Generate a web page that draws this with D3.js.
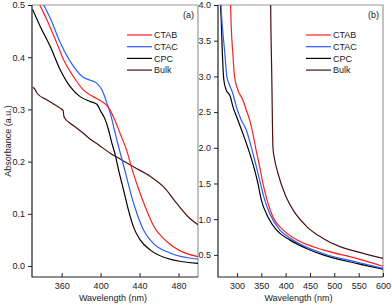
<!DOCTYPE html>
<html>
<head>
<meta charset="utf-8">
<script src="https://cdn.jsdelivr.net/npm/d3@7"></script>
<style>
  html, body { margin: 0; padding: 0; background: #fff; }
  svg { display: block; font-family: "Liberation Sans", Arial, sans-serif; }
  .tick text { font-size: 9px; fill: #1a1a1a; }
  .tick line { stroke: #222; stroke-width: 1; }
</style>
</head>
<body>
<svg id="chart" width="392" height="305"></svg>
<script>
// Panel (a): visible range of the absorption edge
const series = ["CTAB", "CTAC", "CPC", "Bulk"];
const colors = ["#ff1f1f", "#2a5cff", "#000000", "#4d0f12"];

const wlA_ctab = [330, 337.5, 345, 355, 362, 372, 382.5, 392.8, 401.4, 408, 415, 420, 427, 432, 438.9, 445.7, 454.3, 467.9, 481.6, 500];
const absA_ctab = [0.53, 0.5, 0.471, 0.427, 0.395, 0.363, 0.337, 0.324, 0.315, 0.304, 0.278, 0.254, 0.22, 0.187, 0.148, 0.114, 0.077, 0.047, 0.029, 0.018];

const wlA_ctac = [330, 341.6, 348.4, 358.7, 372.3, 382.5, 389.4, 396.2, 401.4, 406.5, 409.9, 415, 418.4, 421.8, 427, 432, 437.2, 444, 454.3, 471.3, 500];
const absA_ctac = [0.545, 0.5, 0.474, 0.427, 0.382, 0.361, 0.356, 0.35, 0.337, 0.312, 0.293, 0.254, 0.229, 0.205, 0.168, 0.132, 0.101, 0.069, 0.043, 0.025, 0.013];

const wlA_cpc = [330, 338.2, 348.4, 358.7, 368.9, 379.2, 389.4, 396.2, 399.6, 404.8, 408.1, 411.6, 415, 418.4, 423.5, 428.6, 433.7, 440.6, 450.8, 467.9, 500];
const absA_cpc = [0.492, 0.458, 0.42, 0.375, 0.343, 0.324, 0.315, 0.31, 0.298, 0.28, 0.261, 0.235, 0.213, 0.184, 0.146, 0.107, 0.075, 0.05, 0.031, 0.015, 0.005];

const wlA_bulk = [330, 331.5, 334.8, 345, 352, 358.7, 361.5, 362, 362.6, 369, 375, 382.5, 389.4, 398, 409.9, 420, 433.7, 450.8, 464.5, 478.2, 491.8, 500];
const absA_bulk = [0.342, 0.341, 0.331, 0.318, 0.31, 0.302, 0.298, 0.29, 0.285, 0.273, 0.265, 0.254, 0.243, 0.232, 0.216, 0.205, 0.19, 0.172, 0.152, 0.12, 0.091, 0.079];

// Panel (b): full range
const wlB_ctab = [282, 286.8, 288.2, 291.5, 295, 301.8, 312.1, 319.1, 326, 332.7, 338.3, 346.5, 353.3, 361.6, 373.9, 394.5, 428.9, 477, 545.8, 600];
const absB_ctab = [4.6, 4.0, 3.7, 3.32, 3.0, 2.81, 2.67, 2.53, 2.39, 2.2, 2.0, 1.74, 1.5, 1.27, 1.03, 0.85, 0.69, 0.57, 0.45, 0.34];

const wlB_ctac = [262, 267, 269.7, 274.4, 279.2, 284.7, 291.5, 298.5, 308.8, 319.1, 329.4, 339.6, 346.5, 354.8, 367.2, 387.8, 415.2, 477, 545.8, 600];
const absB_ctac = [4.8, 4.0, 3.72, 3.37, 3.0, 2.88, 2.76, 2.58, 2.39, 2.25, 2.01, 1.74, 1.55, 1.32, 1.08, 0.85, 0.71, 0.52, 0.40, 0.31];

const wlB_cpc = [262, 266.2, 267.6, 269.7, 273, 277.9, 286.2, 291.5, 301.8, 312.1, 322.4, 336.2, 343, 350, 363.6, 380.9, 408.4, 442.7, 477, 545.8, 600];
const absB_cpc = [4.8, 4.0, 3.79, 3.37, 2.95, 2.81, 2.72, 2.58, 2.39, 2.2, 2.0, 1.69, 1.5, 1.27, 1.03, 0.85, 0.71, 0.59, 0.5, 0.38, 0.30];

const wlB_bulk = [368.5, 369.2, 371.5, 373.9, 377, 384.3, 398, 415.2, 442.7, 477, 511.4, 545.8, 600];
const absB_bulk = [4.6, 4.0, 3.0, 2.0, 1.85, 1.64, 1.36, 1.13, 0.9, 0.73, 0.615, 0.545, 0.45];

const ticksA_x = [360, 400, 440, 480];
const ticksA_y = [0.0, 0.1, 0.2, 0.3, 0.4, 0.5];
const ticksB_x = [300, 350, 400, 450, 500, 550, 600];
const ticksB_y = [0.5, 1.0, 1.5, 2.0, 2.5, 3.0, 3.5, 4.0];

const zip = (xs, ys) => xs.map((x, i) => [x, ys[i]]);

const panels = [
  {
    id: "a", left: 32, right: 198, top: 5, bottom: 277,
    xDomain: [329.5, 500], yDomain: [-0.021, 0.5],
    xTicks: ticksA_x, yTicks: ticksA_y,
    lines: [zip(wlA_ctab, absA_ctab), zip(wlA_ctac, absA_ctac), zip(wlA_cpc, absA_cpc), zip(wlA_bulk, absA_bulk)],
    legendX: 127
  },
  {
    id: "b", left: 218, right: 383, top: 5, bottom: 277,
    xDomain: [261, 600], yDomain: [0.19, 4.0],
    xTicks: ticksB_x, yTicks: ticksB_y,
    lines: [zip(wlB_ctab, absB_ctab), zip(wlB_ctac, absB_ctac), zip(wlB_cpc, absB_cpc), zip(wlB_bulk, absB_bulk)],
    legendX: 306
  }
];

const svg = d3.select("#chart");

panels.forEach(p => {
  const x = d3.scaleLinear().domain(p.xDomain).range([p.left, p.right]);
  const y = d3.scaleLinear().domain(p.yDomain).range([p.bottom, p.top]);
  const g = svg.append("g");

  g.append("clipPath").attr("id", "clip-" + p.id)
    .append("rect")
    .attr("x", p.left).attr("y", p.top)
    .attr("width", p.right - p.left).attr("height", p.bottom - p.top);

  // frame: light top/right, dark left/bottom
  g.append("path")
    .attr("d", `M${p.left},${p.top} H${p.right} V${p.bottom}`)
    .attr("fill", "none").attr("stroke", "#9a9a9a").attr("stroke-width", 1.2);

  const line = d3.line()
    .x(d => x(d[0])).y(d => y(d[1]))
    .curve(d3.curveMonotoneX);

  const lg = g.append("g").attr("clip-path", `url(#clip-${p.id})`);
  // draw bulk first, then CPC, CTAC, CTAB on top
  [3, 2, 1, 0].forEach(i => {
    lg.append("path")
      .datum(p.lines[i])
      .attr("d", line)
      .attr("fill", "none")
      .attr("stroke", colors[i])
      .attr("stroke-width", 1.2);
  });

  const yAxis = d3.axisLeft(y).tickValues(p.yTicks).tickFormat(d3.format(".1f"))
    .tickSizeInner(4).tickSizeOuter(0).tickPadding(3);
  g.append("g").attr("transform", `translate(${p.left},0)`).call(yAxis)
    .call(s => s.select(".domain").remove());

  const xAxis = d3.axisBottom(x).tickValues(p.xTicks).tickFormat(d3.format("d"))
    .tickSizeInner(-4).tickSizeOuter(0).tickPadding(6);
  g.append("g").attr("transform", `translate(0,${p.bottom})`).call(xAxis)
    .call(s => s.select(".domain").remove());

  g.append("path")
    .attr("d", `M${p.left},${p.top} V${p.bottom} H${p.right}`)
    .attr("fill", "none").attr("stroke", "#222").attr("stroke-width", 1.2);

  g.append("text")
    .attr("x", p.right - 4).attr("y", 18)
    .attr("text-anchor", "end")
    .attr("font-size", 9).attr("fill", "#1a1a1a")
    .text(`(${p.id})`);

  g.append("text")
    .attr("x", (p.left + p.right) / 2 - 2).attr("y", 301)
    .attr("text-anchor", "middle")
    .attr("font-size", 9).attr("fill", "#1a1a1a")
    .text("Wavelength (nm)");

  // legend
  const leg = g.append("g");
  series.forEach((name, i) => {
    const ly = 35 + i * 11.7;
    leg.append("line")
      .attr("x1", p.legendX).attr("x2", p.legendX + 25)
      .attr("y1", ly).attr("y2", ly)
      .attr("stroke", colors[i]).attr("stroke-width", 1.2);
    leg.append("text")
      .attr("x", p.legendX + 27).attr("y", ly + 3.2)
      .attr("font-size", 9).attr("fill", "#1a1a1a")
      .text(name);
  });
});

svg.append("text")
  .attr("transform", "translate(11,141) rotate(-90)")
  .attr("text-anchor", "middle")
  .attr("font-size", 9).attr("fill", "#1a1a1a")
  .text("Absorbance (a.u.)");
</script>
</body>
</html>
